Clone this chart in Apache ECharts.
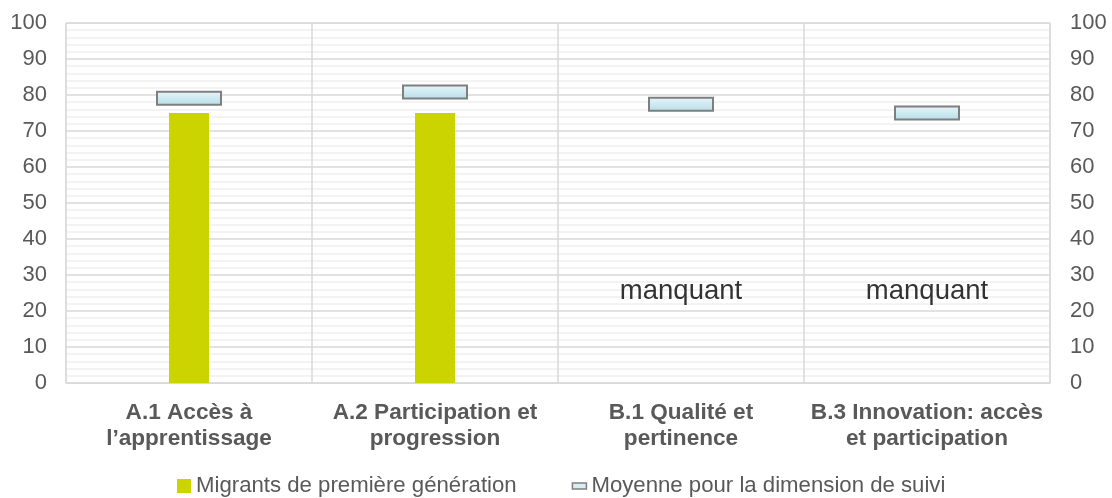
<!DOCTYPE html>
<html>
<head>
<meta charset="utf-8">
<script src="https://cdn.jsdelivr.net/npm/echarts@6/dist/echarts.min.js"></script>
<style>
  html, body { margin: 0; padding: 0; background: #fff; }
  #chart { width: 1112px; height: 498px; }
</style>
</head>
<body>
<div id="chart"></div>
<script>
// categories (two-line labels)
const categories = [
  "A.1 Accès à\nl’apprentissage",
  "A.2 Participation et\nprogression",
  "B.1 Qualité et\npertinence",
  "B.3 Innovation: accès\net participation"
];
const seriesNames = ["Migrants de première génération", "Moyenne pour la dimension de suivi"];
// first-generation migrants (null = missing)
const migrantValues = [75, 75, null, null];
// monitoring-dimension average
const averageValues = [79.1, 80.8, 77.4, 75.0];
// "manquant" text height where data are missing
const missingText = "manquant";
const missingLabelLevel = 25.5;
const yTicks = [0, 10, 20, 30, 40, 50, 60, 70, 80, 90, 100];

const missingData = migrantValues.map(v => (v == null ? missingLabelLevel : null));

const grey = "#595959";
const font = "Liberation Sans, Arial, sans-serif";

const chart = echarts.init(document.getElementById("chart"));

const yAxisBase = {
  type: "value",
  min: yTicks[0],
  max: yTicks[yTicks.length - 1],
  interval: 10,
  axisLine: { show: false },
  axisTick: { show: false },
};

// average marker: flat box centred on the category
const markerFill = new echarts.graphic.LinearGradient(0, 0, 0, 1, [
  { offset: 0, color: "#e9f6fa" },
  { offset: 1, color: "#b4dde8" },
]);
const renderMarker = (params, api) => {
  const p = api.coord([api.value(0), api.value(1)]);
  const w = 64, h = 13;
  return {
    type: "rect",
    shape: { x: p[0] - w / 2, y: p[1] - h / 2, width: w, height: h },
    style: { fill: markerFill, stroke: "#7f7f7f", lineWidth: 2 },
  };
};

chart.setOption({
  backgroundColor: "#fff",
  animation: false,
  grid: {
    left: 66,
    right: 62,
    top: 23,
    bottom: 115,
    show: true,
    borderColor: "#d9d9d9",
    borderWidth: 1,
  },
  legend: {
    top: 470,
    left: 172,
    itemGap: 55,
    itemWidth: 14,
    itemHeight: 14,
    textStyle: { fontFamily: font, fontSize: 22.2, color: grey },
    data: [
      { name: seriesNames[0], icon: "rect" },
      {
        name: seriesNames[1],
        icon: "path://M0,0h12v5h-12z",
        itemStyle: { color: "#d6eef4", borderColor: "#7f7f7f", borderWidth: 1.5 },
      },
    ],
  },
  xAxis: {
    type: "category",
    data: categories,
    axisLine: { lineStyle: { color: "#d9d9d9" } },
    axisTick: { show: false },
    splitLine: { show: true, lineStyle: { color: "#d9d9d9", width: 1.5 } },
    axisLabel: {
      interval: 0,
      margin: 17,
      fontFamily: font,
      fontSize: 22.6,
      fontWeight: "bold",
      lineHeight: 26,
      color: grey,
    },
  },
  yAxis: [
    Object.assign({}, yAxisBase, {
      position: "left",
      axisLabel: { margin: 19, fontFamily: font, fontSize: 22, color: grey },
      splitLine: { show: true, lineStyle: { color: "#d9d9d9", width: 1.5 } },
      minorTick: { show: false, splitNumber: 5 },
      minorSplitLine: { show: true, lineStyle: { color: "#efefef", width: 1.5 } },
    }),
    Object.assign({}, yAxisBase, {
      position: "right",
      axisLabel: { margin: 20, fontFamily: font, fontSize: 22, color: grey },
      splitLine: { show: false },
    }),
  ],
  series: [
    {
      name: seriesNames[0],
      type: "bar",
      data: migrantValues,
      barWidth: 40,
      itemStyle: { color: "#ccd400" },
      z: 2,
    },
    {
      name: seriesNames[1],
      type: "custom",
      data: averageValues.map((v, i) => [i, v]),
      encode: { x: 0, y: 1 },
      renderItem: renderMarker,
      itemStyle: { color: "#d6eef4", borderColor: "#7f7f7f" },
      z: 3,
    },
    {
      name: "missing",
      type: "scatter",
      data: missingData,
      symbolSize: 0,
      silent: true,
      label: {
        show: true,
        position: "inside",
        formatter: missingText,
        fontFamily: font,
        fontSize: 27.5,
        color: "#000",
      },
      z: 4,
    },
  ],
});
</script>
</body>
</html>
